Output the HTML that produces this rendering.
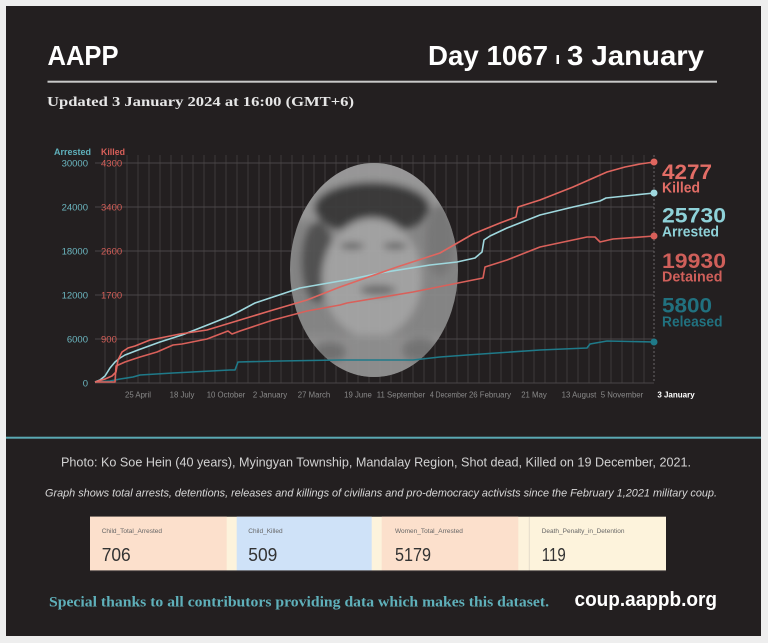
<!DOCTYPE html>
<html><head><meta charset="utf-8"><style>
html,body{margin:0;padding:0;background:#eeeeee;}
svg{display:block;}
</style></head><body>
<svg width="768" height="643" viewBox="0 0 768 643" xmlns="http://www.w3.org/2000/svg">
<defs>
<clipPath id="ph"><ellipse cx="374" cy="270" rx="84" ry="107"/></clipPath>
<filter id="bl" x="-20%" y="-20%" width="140%" height="140%"><feGaussianBlur stdDeviation="4"/></filter>
</defs>
<rect x="0" y="0" width="768" height="643" fill="#eeeeee"/>
<rect x="6" y="6" width="755" height="630" fill="#231f20"/>

<!-- header -->
<text x="47.5" y="65" font-family="Liberation Sans, sans-serif" font-weight="bold" font-size="28" fill="#ffffff" textLength="71" lengthAdjust="spacingAndGlyphs">AAPP</text>
<text x="428" y="65" font-family="Liberation Sans, sans-serif" font-weight="bold" font-size="28" fill="#ffffff" textLength="120" lengthAdjust="spacingAndGlyphs">Day 1067</text>
<rect x="556.5" y="55" width="2.5" height="9" fill="#ffffff"/>
<text x="567" y="65" font-family="Liberation Sans, sans-serif" font-weight="bold" font-size="28" fill="#ffffff" textLength="137" lengthAdjust="spacingAndGlyphs">3 January</text>
<rect x="47.5" y="80.7" width="669.5" height="2" fill="#c9c9c9"/>
<text x="47" y="106" font-family="Liberation Serif, serif" font-weight="bold" font-size="14" fill="#e6e6e6" textLength="307" lengthAdjust="spacingAndGlyphs">Updated 3 January 2024 at 16:00 (GMT+6)</text>

<!-- grid -->
<g stroke="#3d393a" stroke-width="1">
<line x1="105" y1="155" x2="105" y2="383"/><line x1="116" y1="155" x2="116" y2="383"/><line x1="127" y1="155" x2="127" y2="383"/><line x1="138" y1="155" x2="138" y2="383"/><line x1="149" y1="155" x2="149" y2="383"/><line x1="160" y1="155" x2="160" y2="383"/><line x1="171" y1="155" x2="171" y2="383"/><line x1="182" y1="155" x2="182" y2="383"/><line x1="193" y1="155" x2="193" y2="383"/><line x1="204" y1="155" x2="204" y2="383"/><line x1="215" y1="155" x2="215" y2="383"/><line x1="226" y1="155" x2="226" y2="383"/><line x1="237" y1="155" x2="237" y2="383"/><line x1="248" y1="155" x2="248" y2="383"/><line x1="259" y1="155" x2="259" y2="383"/><line x1="270" y1="155" x2="270" y2="383"/><line x1="281" y1="155" x2="281" y2="383"/><line x1="292" y1="155" x2="292" y2="383"/><line x1="303" y1="155" x2="303" y2="383"/><line x1="314" y1="155" x2="314" y2="383"/><line x1="325" y1="155" x2="325" y2="383"/><line x1="336" y1="155" x2="336" y2="383"/><line x1="347" y1="155" x2="347" y2="383"/><line x1="358" y1="155" x2="358" y2="383"/><line x1="369" y1="155" x2="369" y2="383"/><line x1="380" y1="155" x2="380" y2="383"/><line x1="391" y1="155" x2="391" y2="383"/><line x1="402" y1="155" x2="402" y2="383"/><line x1="413" y1="155" x2="413" y2="383"/><line x1="424" y1="155" x2="424" y2="383"/><line x1="435" y1="155" x2="435" y2="383"/><line x1="446" y1="155" x2="446" y2="383"/><line x1="457" y1="155" x2="457" y2="383"/><line x1="468" y1="155" x2="468" y2="383"/><line x1="479" y1="155" x2="479" y2="383"/><line x1="490" y1="155" x2="490" y2="383"/><line x1="501" y1="155" x2="501" y2="383"/><line x1="512" y1="155" x2="512" y2="383"/><line x1="523" y1="155" x2="523" y2="383"/><line x1="534" y1="155" x2="534" y2="383"/><line x1="545" y1="155" x2="545" y2="383"/><line x1="556" y1="155" x2="556" y2="383"/><line x1="567" y1="155" x2="567" y2="383"/><line x1="578" y1="155" x2="578" y2="383"/><line x1="589" y1="155" x2="589" y2="383"/><line x1="600" y1="155" x2="600" y2="383"/><line x1="611" y1="155" x2="611" y2="383"/><line x1="622" y1="155" x2="622" y2="383"/><line x1="633" y1="155" x2="633" y2="383"/><line x1="644" y1="155" x2="644" y2="383"/>
</g>
<g stroke="#4a4647" stroke-width="1">
<line x1="95" y1="163" x2="654" y2="163"/><line x1="95" y1="207" x2="654" y2="207"/><line x1="95" y1="251" x2="654" y2="251"/><line x1="95" y1="295" x2="654" y2="295"/><line x1="95" y1="339" x2="654" y2="339"/><line x1="95" y1="383" x2="654" y2="383"/>
</g>
<line x1="654" y1="155" x2="654" y2="383" stroke="#6a6667" stroke-width="1" stroke-dasharray="2,2"/>

<!-- axis labels -->
<g font-family="Liberation Sans, sans-serif" font-weight="bold" font-size="9">
<text x="54" y="155" fill="#5fb0bb" textLength="37" lengthAdjust="spacingAndGlyphs">Arrested</text>
<text x="101" y="155" fill="#d9605a" textLength="24" lengthAdjust="spacingAndGlyphs">Killed</text>
</g>
<g font-family="Liberation Sans, sans-serif" font-size="9.5" fill="#6cb7c1" text-anchor="end">
<text x="88" y="166.5">30000</text><text x="88" y="210.5">24000</text><text x="88" y="254.5">18000</text><text x="88" y="298.5">12000</text><text x="88" y="342.5">6000</text><text x="88" y="386.5">0</text>
</g>
<g font-family="Liberation Sans, sans-serif" font-size="9.5" fill="#d45f59">
<text x="101" y="166.5">4300</text><text x="101" y="210.5">3400</text><text x="101" y="254.5">2600</text><text x="101" y="298.5">1700</text><text x="101" y="342.5">900</text>
</g>
<g font-family="Liberation Sans, sans-serif" font-size="7.8" fill="#8a8a8a" text-anchor="middle">
<text x="138" y="397.5">25 April</text><text x="182" y="397.5">18 July</text><text x="226" y="397.5">10 October</text><text x="270" y="397.5">2 January</text><text x="314" y="397.5">27 March</text><text x="358" y="397.5">19 June</text><text x="401" y="397.5">11 September</text><text x="490" y="397.5">26 February</text><text x="534" y="397.5">21 May</text><text x="579" y="397.5">13 August</text><text x="622" y="397.5">5 November</text>
</g>
<text x="430" y="397.5" font-family="Liberation Sans, sans-serif" font-size="7.8" fill="#8a8a8a" textLength="37" lengthAdjust="spacingAndGlyphs">4 December</text>
<text x="676" y="397.5" font-family="Liberation Sans, sans-serif" font-size="8" font-weight="bold" fill="#ffffff" text-anchor="middle">3 January</text>

<!-- photo -->
<g opacity="0.93">
<ellipse cx="374" cy="270" rx="84" ry="107" fill="#8c8c8c"/>
<g clip-path="url(#ph)" filter="url(#bl)">
<rect x="280" y="160" width="190" height="60" fill="#a0a0a0"/>
<ellipse cx="372" cy="208" rx="58" ry="26" fill="#3e3e3e"/>
<ellipse cx="318" cy="262" rx="16" ry="40" fill="#555555"/>
<ellipse cx="372" cy="278" rx="50" ry="60" fill="#ababab"/>
<ellipse cx="352" cy="246" rx="12" ry="3" fill="#5a5a5a"/>
<ellipse cx="395" cy="246" rx="12" ry="3" fill="#5a5a5a"/>
<ellipse cx="378" cy="290" rx="18" ry="5" fill="#707070"/>
<rect x="290" y="335" width="170" height="45" fill="#959595"/>
<ellipse cx="330" cy="352" rx="16" ry="10" fill="#777777"/>
<ellipse cx="420" cy="350" rx="18" ry="12" fill="#7a7a7a"/>
<ellipse cx="440" cy="240" rx="14" ry="36" fill="#7e7e7e"/>
</g>
</g>

<!-- series -->
<g fill="none" stroke-width="1.6" stroke-linejoin="round">
<polyline stroke="#1f7a89" points="95,382 110,381 120,379 133,377 140,375 173,373 230,370 235,370 238,362 280,361 340,360 413,360 440,357 467,355 540,350 587,348 590,344 607,341 654,342"/>
<polyline stroke="#d9605a" points="95,382 115,382 116,366 125,362 140,357 157,352 173,345 182,344 207,339 228,331 232,334 240,331 273,320 307,311 340,305 347,303 413,292 473,280 483,278 485,267 507,260 540,247 587,237 595,237 600,242 613,239 654,236"/>
<polyline stroke="#9fd8de" points="95,382 100,380 105,376 110,368 115,362 120,358 125,355 138,350 160,342 182,335 210,324 230,316 240,311 255,303 273,297 300,288 340,281 347,280 380,273 430,265 457,262 475,258 482,252 484,240 490,236 507,228 540,215 573,207 600,201 606,198 654,193"/>
<polyline stroke="#e0665f" points="95,382 105,379 112,376 116,372 118,360 122,352 128,348 135,346 150,340 180,334 207,330 240,320 273,310 307,300 340,287 360,280 397,267 440,253 473,234 500,223 516,217 518,207 540,200 573,187 607,172 625,167 640,164 654,162"/>
</g>
<circle cx="654" cy="162" r="3.5" fill="#e0665f"/>
<circle cx="654" cy="193" r="3.5" fill="#9fd8de"/>
<circle cx="654" cy="236" r="3.5" fill="#d9605a"/>
<circle cx="654" cy="342" r="3.5" fill="#1f7a89"/>

<!-- end labels -->
<g font-family="Liberation Sans, sans-serif" font-weight="bold">
<text x="662" y="179" font-size="21" fill="#e26d66" textLength="50" lengthAdjust="spacingAndGlyphs">4277</text>
<text x="662" y="192.5" font-size="14.5" fill="#e26d66" textLength="38" lengthAdjust="spacingAndGlyphs">Killed</text>
<text x="662" y="222.5" font-size="21" fill="#8ed1d8" textLength="64" lengthAdjust="spacingAndGlyphs">25730</text>
<text x="662" y="236.7" font-size="14.5" fill="#8ed1d8" textLength="57" lengthAdjust="spacingAndGlyphs">Arrested</text>
<text x="662" y="268" font-size="21" fill="#cf5f5a" textLength="64" lengthAdjust="spacingAndGlyphs">19930</text>
<text x="662" y="281.7" font-size="14.5" fill="#cf5f5a" textLength="60.5" lengthAdjust="spacingAndGlyphs">Detained</text>
<text x="662" y="312.7" font-size="21" fill="#21717f" textLength="50" lengthAdjust="spacingAndGlyphs">5800</text>
<text x="662" y="326.7" font-size="14.5" fill="#21717f" textLength="60.5" lengthAdjust="spacingAndGlyphs">Released</text>
</g>

<!-- separator -->
<rect x="6" y="436.7" width="755" height="2" fill="#5aa9b3"/>

<!-- captions -->
<text x="61" y="466.5" font-family="Liberation Sans, sans-serif" font-size="12.5" fill="#d2d2d2" textLength="630" lengthAdjust="spacingAndGlyphs">Photo: Ko Soe Hein (40 years), Myingyan Township, Mandalay Region, Shot dead, Killed on 19 December, 2021.</text>
<text x="45" y="496.5" font-family="Liberation Sans, sans-serif" font-style="italic" font-size="11" fill="#d8d8d8" textLength="672" lengthAdjust="spacingAndGlyphs">Graph shows total arrests, detentions, releases and killings of civilians and pro-democracy activists since the February 1,2021 military coup.</text>

<!-- stat boxes -->
<rect x="90" y="516.7" width="576" height="54" fill="#fdf3dc"/>
<rect x="90" y="516.7" width="136.7" height="54" fill="#fce0cc"/>
<rect x="236.7" y="516.7" width="135" height="54" fill="#cfe2f8"/>
<rect x="381.7" y="516.7" width="136.6" height="54" fill="#fce0cc"/>
<line x1="529.3" y1="517" x2="529.3" y2="570.5" stroke="#e4dccb" stroke-width="1"/>
<line x1="90" y1="570.9" x2="666" y2="570.9" stroke="#3a3536" stroke-width="1"/>
<g font-family="Liberation Sans, sans-serif" font-size="6.5" fill="#666666">
<text x="101.7" y="533">Child_Total_Arrested</text>
<text x="248.3" y="533">Child_Killed</text>
<text x="395" y="533">Women_Total_Arrested</text>
<text x="541.7" y="533">Death_Penalty_in_Detention</text>
</g>
<g font-family="Liberation Sans, sans-serif" font-size="18.5" fill="#333333">
<text x="101.7" y="561" textLength="29" lengthAdjust="spacingAndGlyphs">706</text>
<text x="248.3" y="561" textLength="29" lengthAdjust="spacingAndGlyphs">509</text>
<text x="395" y="561" textLength="36" lengthAdjust="spacingAndGlyphs">5179</text>
<text x="541.7" y="561" textLength="24" lengthAdjust="spacingAndGlyphs">119</text>
</g>

<!-- footer -->
<text x="49" y="606.5" font-family="Liberation Serif, serif" font-weight="bold" font-size="14.5" fill="#5fb0ba" textLength="500" lengthAdjust="spacingAndGlyphs">Special thanks to all contributors providing data which makes this dataset.</text>
<text x="574.5" y="606" font-family="Liberation Sans, sans-serif" font-weight="bold" font-size="20" fill="#ffffff" textLength="142.5" lengthAdjust="spacingAndGlyphs">coup.aappb.org</text>
</svg>
</body></html>
